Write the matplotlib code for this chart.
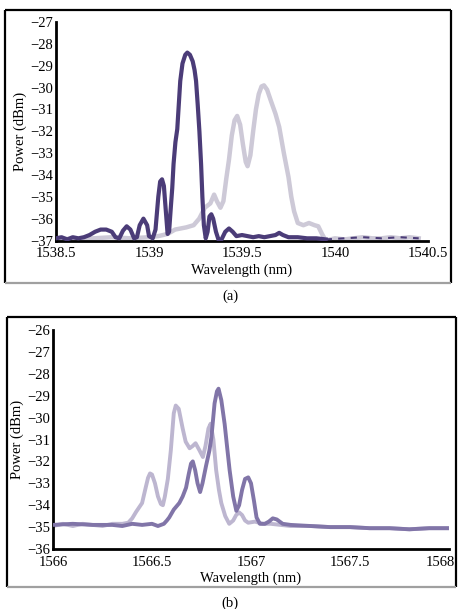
import matplotlib
matplotlib.use("Agg")
import matplotlib.pyplot as plt
from matplotlib.lines import Line2D
import matplotlib.transforms as mtransforms

plt.rcParams['font.family'] = ['Liberation Serif', 'DejaVu Serif']

# ---------------- data: panel (a) ----------------
a_dark_x = [1538.50, 1538.53, 1538.56, 1538.59, 1538.62, 1538.65, 1538.68, 1538.71, 1538.74, 1538.77,
            1538.80, 1538.82, 1538.84, 1538.86, 1538.88, 1538.90, 1538.92, 1538.935, 1538.95, 1538.97,
            1538.99, 1539.00, 1539.02, 1539.035, 1539.05, 1539.06, 1539.07, 1539.08, 1539.09, 1539.10,
            1539.108, 1539.118, 1539.125, 1539.132, 1539.142, 1539.152, 1539.16, 1539.168, 1539.18, 1539.195,
            1539.206, 1539.22, 1539.235, 1539.245, 1539.253, 1539.262, 1539.271, 1539.28, 1539.287, 1539.295,
            1539.305, 1539.315, 1539.325, 1539.335, 1539.345, 1539.36, 1539.375, 1539.39, 1539.41, 1539.43,
            1539.45, 1539.47, 1539.50, 1539.53, 1539.56, 1539.59, 1539.62, 1539.65, 1539.68, 1539.70,
            1539.72, 1539.75, 1539.80, 1539.85, 1539.90, 1539.95]
a_dark_y = [-36.9, -36.85, -36.95, -36.85, -36.9, -36.85, -36.75, -36.6, -36.5, -36.5,
            -36.6, -36.85, -36.9, -36.55, -36.35, -36.5, -36.9, -36.85, -36.3, -36.0,
            -36.3, -36.8, -36.9, -36.5, -35.0, -34.3, -34.2, -34.5, -35.6, -36.7,
            -36.6, -35.4, -34.6, -33.5, -32.5, -31.9, -30.8, -29.7, -28.9, -28.5,
            -28.4, -28.5, -28.8, -29.2, -29.7, -30.8, -32.0, -33.5, -35.0, -36.3,
            -36.9, -36.6, -35.9, -35.8, -36.0, -36.6, -37.0, -36.95, -36.6, -36.45,
            -36.6, -36.8, -36.75, -36.8, -36.85, -36.8, -36.85, -36.8, -36.75, -36.65,
            -36.75, -36.85, -36.85, -36.9, -36.9, -36.95]
a_dark_tail_x = [1539.95, 1540.05, 1540.15, 1540.25, 1540.35, 1540.45]
a_dark_tail_y = [-36.95, -36.9, -36.85, -36.9, -36.85, -36.9]

a_light_x = [1538.50, 1538.60, 1538.70, 1538.80, 1538.90, 1539.00, 1539.05, 1539.10, 1539.14, 1539.17,
             1539.20, 1539.24, 1539.27, 1539.30, 1539.33, 1539.35, 1539.365, 1539.384, 1539.40, 1539.415,
             1539.43, 1539.445, 1539.46, 1539.474, 1539.49, 1539.505, 1539.52, 1539.53, 1539.545, 1539.56,
             1539.575, 1539.59, 1539.605, 1539.618, 1539.635, 1539.655, 1539.68, 1539.70, 1539.725, 1539.75,
             1539.765, 1539.78, 1539.80, 1539.83, 1539.86, 1539.89, 1539.91, 1539.93, 1539.95, 1540.00,
             1540.05, 1540.10, 1540.15, 1540.20, 1540.25, 1540.30, 1540.35, 1540.40, 1540.45]
a_light_y = [-36.9, -36.95, -36.9, -36.85, -36.9, -36.85, -36.8, -36.7, -36.5, -36.45,
             -36.4, -36.3, -36.0, -35.5, -35.3, -34.9, -35.2, -35.5, -35.2, -34.2,
             -33.3, -32.2, -31.5, -31.3, -31.7, -32.6, -33.4, -33.6, -33.1, -32.0,
             -31.0, -30.3, -29.95, -29.9, -30.1, -30.6, -31.2, -31.8, -33.0, -34.1,
             -35.0, -35.66, -36.2, -36.3, -36.2, -36.3, -36.35, -36.7, -37.0, -36.9,
             -36.95, -36.9, -36.85, -36.9, -36.9, -36.85, -36.9, -36.85, -36.9]

a_xticks = [1538.5, 1539, 1539.5, 1540, 1540.5]
a_xticklabels = ["1538.5", "1539", "1539.5", "1540", "1540.5"]
a_yticks = [-37, -36, -35, -34, -33, -32, -31, -30, -29, -28, -27]

# ---------------- data: panel (b) ----------------
b_light_x = [1566.00, 1566.05, 1566.10, 1566.15, 1566.20, 1566.25, 1566.30, 1566.35, 1566.38, 1566.40,
             1566.42, 1566.45, 1566.468, 1566.48, 1566.49, 1566.50, 1566.515, 1566.53, 1566.545, 1566.555,
             1566.565, 1566.58, 1566.595, 1566.61, 1566.62, 1566.635, 1566.655, 1566.67, 1566.69, 1566.705,
             1566.72, 1566.74, 1566.757, 1566.77, 1566.785, 1566.796, 1566.81, 1566.824, 1566.838, 1566.85,
             1566.87, 1566.89, 1566.91, 1566.925, 1566.94, 1566.955, 1566.97, 1566.986, 1567.02, 1567.06,
             1567.10, 1567.15, 1567.20, 1567.30, 1567.40, 1567.50, 1567.60, 1567.70, 1567.80, 1567.90,
             1567.99]
b_light_y = [-34.95, -34.85, -34.95, -34.85, -34.9, -34.95, -34.85, -34.85, -34.8, -34.6,
             -34.3, -33.9, -33.2, -32.75, -32.55, -32.6, -33.0, -33.6, -33.95, -34.0,
             -33.6, -32.8, -31.5, -29.8, -29.45, -29.6, -30.5, -31.1, -31.4, -31.3,
             -31.17, -31.5, -31.8, -31.3, -30.5, -30.28, -31.0, -32.4, -33.3, -33.9,
             -34.5, -34.85, -34.7, -34.45, -34.33, -34.45, -34.7, -34.8, -34.75, -34.85,
             -34.85, -34.9, -34.95, -34.95, -35.0, -35.0, -35.05, -35.05, -35.1, -35.05,
             -35.05]

b_dark_x = [1566.00, 1566.10, 1566.20, 1566.30, 1566.35, 1566.40, 1566.45, 1566.50, 1566.53, 1566.56,
            1566.575, 1566.587, 1566.61, 1566.638, 1566.655, 1566.672, 1566.685, 1566.697, 1566.706, 1566.718,
            1566.73, 1566.743, 1566.755, 1566.773, 1566.79, 1566.80, 1566.816, 1566.828, 1566.836, 1566.85,
            1566.867, 1566.88, 1566.892, 1566.91, 1566.926, 1566.94, 1566.955, 1566.97, 1566.986, 1567.00,
            1567.015, 1567.028, 1567.045, 1567.07, 1567.09, 1567.11, 1567.13, 1567.16, 1567.20, 1567.30,
            1567.40, 1567.50, 1567.60, 1567.70, 1567.80, 1567.90, 1567.99]
b_dark_y = [-34.9, -34.85, -34.9, -34.9, -34.95, -34.85, -34.9, -34.85, -34.95, -34.85,
            -34.7, -34.56, -34.2, -33.9, -33.6, -33.2, -32.6, -32.1, -32.0, -32.4,
            -33.0, -33.4, -33.0, -32.2, -31.5, -30.9, -29.35, -28.8, -28.68, -29.2,
            -30.3, -31.4, -32.4, -33.6, -34.26, -34.0, -33.3, -32.8, -32.73, -33.0,
            -33.8, -34.56, -34.85, -34.85, -34.75, -34.6, -34.65, -34.85, -34.9, -34.95,
            -35.0, -35.0, -35.05, -35.05, -35.1, -35.05, -35.05]

b_xticks = [1566, 1566.5, 1567, 1567.5, 1568]
b_xticklabels = ["1566", "1566.5", "1567", "1567.5", "1568"]
b_yticks = [-36, -35, -34, -33, -32, -31, -30, -29, -28, -27, -26]

# ---------------- figure ----------------
W, H = 459, 609
fig = plt.figure(figsize=(W / 100, H / 100), dpi=100)

def fx(px):
    return px / W

def fy(py):
    return 1 - py / H

def frame(x0, y0, x1, y1):
    k = dict(transform=fig.transFigure, lw=1.6, color='black', solid_capstyle='butt')
    fig.add_artist(Line2D([fx(x0), fx(x0)], [fy(y0), fy(y1)], **k))
    fig.add_artist(Line2D([fx(x0), fx(x1)], [fy(y0), fy(y0)], **k))
    fig.add_artist(Line2D([fx(x1), fx(x1)], [fy(y0), fy(y1)], **k))
    k['color'] = '#a0a0a0'
    fig.add_artist(Line2D([fx(x0), fx(x1)], [fy(y1), fy(y1)], **k))

def style(ax, xt, xtl, yt, xlim, ylim):
    ax.set_xlim(*xlim)
    ax.set_ylim(*ylim)
    ax.set_xticks(xt)
    ax.set_xticklabels(xtl)
    ax.set_yticks(yt)
    ax.set_yticklabels([("\u2212%d" % -v) for v in yt])
    for s in ['top', 'right']:
        ax.spines[s].set_visible(False)
    for s in ['left', 'bottom']:
        ax.spines[s].set_linewidth(2.0)
        ax.spines[s].set_color('black')
    ax.tick_params(axis='x', length=0, labelsize=10.5, pad=5)
    ax.tick_params(axis='y', length=0, labelsize=10.5, pad=2)
    ax.set_xlabel("Wavelength (nm)", fontsize=10.5, labelpad=2)
    ax.set_ylabel("Power (dBm)", fontsize=10.5, labelpad=2)
    ax.patch.set_alpha(0)

# panel (a)
frame(5, 10, 451, 283)
ax1 = fig.add_axes([fx(56), fy(240.5), fx(428) - fx(56), fy(22) - fy(240.5)])
ax1.plot(a_light_x, a_light_y, color='#cdc9d7', lw=3.2, zorder=2, solid_joinstyle='round')
ax1.plot(a_dark_x, a_dark_y, color='#4b3c78', lw=3.0, zorder=3, solid_joinstyle='round')
ax1.plot(a_dark_tail_x, a_dark_tail_y, color='#4b3c78', lw=1.5, ls=(0, (3, 3)), zorder=3)
style(ax1, a_xticks, a_xticklabels, a_yticks, (1538.5, 1540.5), (-37, -27))
fig.text(fx(230), fy(296), "(a)", ha='center', va='center', fontsize=10.5)

# panel (b)
frame(7, 317, 456, 587)
ax2 = fig.add_axes([fx(53), fy(549), fx(449) - fx(53), fy(330) - fy(549)])
ax2.plot(b_light_x, b_light_y, color='#bdb6d0', lw=2.8, zorder=2, solid_joinstyle='round')
ax2.plot(b_dark_x, b_dark_y, color='#8175a8', lw=2.8, zorder=3, solid_joinstyle='round')
style(ax2, b_xticks, b_xticklabels, b_yticks, (1566, 1568), (-36, -26))
last = ax2.get_xticklabels()[-1]
last.set_transform(last.get_transform() + mtransforms.ScaledTranslation(-9 / 100, 0, fig.dpi_scale_trans))
fig.text(fx(230), fy(603), "(b)", ha='center', va='center', fontsize=10.5)

fig.savefig("out.png", dpi=100)
